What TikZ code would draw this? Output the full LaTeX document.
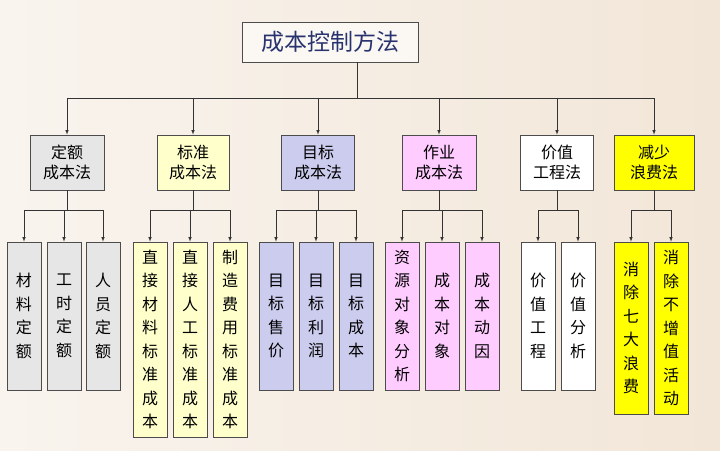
\documentclass[tikz,border=0pt]{standalone}
\usepackage{fontspec}
\setmainfont{Noto Sans CJK SC}
\definecolor{bgl}{HTML}{F9F4EE}
\definecolor{bgr}{HTML}{F2E6D8}
\definecolor{rootfill}{HTML}{FBF8F4}
\definecolor{roottext}{HTML}{28326E}
\begin{document}
\begin{tikzpicture}[x=1pt,y=-1pt,
 box/.style={draw=black!70,line width=0.6pt,inner sep=0pt,align=center,font=\fontsize{16}{20}\selectfont},
 mid/.style={box,minimum height=55pt},
 ar/.style={-latex,black!80,line width=0.6pt},
 ln/.style={black!80,line width=0.6pt}]
\shade[left color=bgl,right color=bgr] (0,0) rectangle (720,450);
\useasboundingbox (0,0) rectangle (720,450);
\node[box,minimum width=176pt,minimum height=40pt,fill=rootfill,font=\fontsize{23}{26}\selectfont,text=roottext] (root) at (330,42) {成本控制方法};
\coordinate (rs) at (357,62);
\coordinate (rb) at (357,98);
\draw[ln] (rs)--(rb);
\coordinate (bl) at (67,98); \coordinate (br) at (654,98);
\draw[ln] (bl)--(br);
\def\mids{1/67/30/104/E6E6E6/定额\\成本法, 2/193/157/229/FFFFCC/标准\\成本法, 3/318/282/355/CCCCEE/目标\\成本法, 4/439/402/476/FFCCFF/作业\\成本法, 5/557/521/594/FFFFFF/价值\\工程法, 6/654/614/694/FFFF00/减少\\浪费法}
\foreach \i/\c/\l/\r/\col/\t in \mids {
  \definecolor{c\i}{HTML}{\col}
  \pgfmathsetmacro{\w}{\r-\l}
  \node[mid,fill=c\i,minimum width=\w pt] (m\i) at (\c,162.5) {\t};
  \coordinate (t\i) at (\c,98);
  \draw[ar] (t\i)--(m\i.north);
}
\definecolor{c1}{HTML}{E6E6E6}\definecolor{c2}{HTML}{FFFFCC}\definecolor{c3}{HTML}{CCCCEE}
\definecolor{c4}{HTML}{FFCCFF}\definecolor{c5}{HTML}{FFFFFF}\definecolor{c6}{HTML}{FFFF00}
\def\leaves{1/a/24/390/材\\料\\定\\额, 1/b/64/390/工\\时\\定\\额, 1/c/103/390/人\\员\\定\\额,
 2/a/150/437/直\\接\\材\\料\\标\\准\\成\\本, 2/b/190/437/直\\接\\人\\工\\标\\准\\成\\本, 2/c/230/437/制\\造\\费\\用\\标\\准\\成\\本,
 3/a/276/390/目\\标\\售\\价, 3/b/316/390/目\\标\\利\\润, 3/c/356/390/目\\标\\成\\本,
 4/a/402/390/资\\源\\对\\象\\分\\析, 4/b/442/390/成\\本\\对\\象, 4/c/482/390/成\\本\\动\\因,
 5/a/538/390/价\\值\\工\\程, 5/b/578/390/价\\值\\分\\析,
 6/a/631/414/消\\除\\七\\大\\浪\\费, 6/b/671/414/消\\除\\不\\增\\值\\活\\动}
\foreach \g/\k/\c/\b/\t in \leaves {
  \pgfmathsetmacro{\h}{\b-242}
  \pgfmathsetmacro{\cy}{(242+\b)/2}
  \node[box,fill=c\g,minimum width=34pt,minimum height=\h pt,font=\fontsize{16}{23.5}\selectfont] (l\g\k) at (\c,\cy) {\t};
  \coordinate (s\g\k) at (\c,210);
  \draw[ar] (s\g\k)--(l\g\k.north);
}
\foreach \g/\f/\e in {1/a/c,2/a/c,3/a/c,4/a/c,5/a/b,6/a/b}{
  \draw[ln] (s\g\f)--(s\g\e);
  \draw[ln] (m\g.south)--(m\g.south |- s\g\f);
}
\end{tikzpicture}
\end{document}
